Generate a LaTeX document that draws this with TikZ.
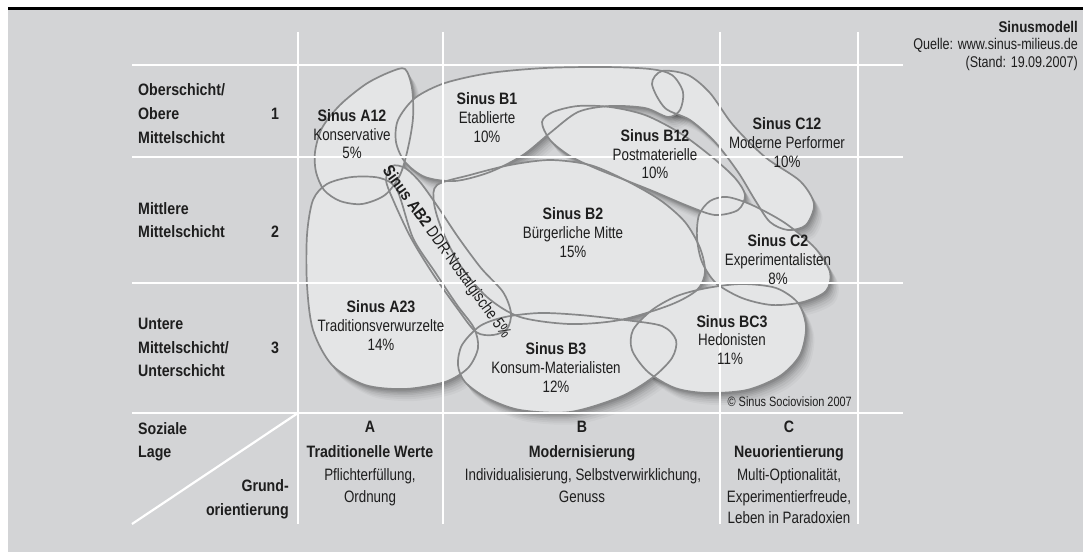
\documentclass[tikz,border=0pt]{standalone}
\usepackage{fontspec}
\setmainfont[FakeStretch=0.81]{Liberation Sans}
\newfontfamily\fbold[FakeStretch=0.86]{Liberation Sans}
\definecolor{bg}{HTML}{D3D4D6}
\definecolor{blobfill}{HTML}{E4E5E6}
\definecolor{blobline}{HTML}{878889}
\definecolor{txt}{HTML}{1E1E1E}
\newcommand\hb[1]{{\fbold\bfseries #1}}
\newcommand\shpAa{plot[smooth cycle] coordinates {(405,69) (412,88) (413,118) (408,148) (400,175) (385,195) (362,204) (340,201) (324,190) (316,172) (315,152) (322,128) (340,105) (366,84) (390,72)}}
\newcommand\shpBa{plot[smooth cycle] coordinates {(398,120) (415,98) (445,83) (490,73) (545,68) (605,67) (650,69) (672,75) (683,92) (680,110) (668,117) (645,108) (610,106) (578,112) (550,133) (523,155) (490,172) (455,181) (425,177) (405,162) (396,142)}}
\newcommand\shpBb{plot[smooth cycle] coordinates {(542,122) (553,112) (578,106) (610,107) (645,115) (680,133) (712,157) (735,178) (745,195) (738,210) (715,215) (688,206) (655,192) (625,180) (595,168) (570,156) (550,140)}}
\newcommand\shpCa{plot[smooth cycle] coordinates {(652,84) (662,71) (688,75) (710,93) (733,125) (765,157) (800,181) (814,204) (806,225) (788,230) (770,222) (755,200) (738,172) (715,142) (690,120) (665,108)}}
\newcommand\shpCb{plot[smooth cycle] coordinates {(699,215) (710,201) (727,197) (752,205) (785,223) (815,248) (830,272) (826,291) (803,302) (772,305) (742,298) (716,283) (702,262) (697,238)}}
\newcommand\shpBc{plot[smooth cycle] coordinates {(437,185) (470,175) (510,165) (550,160) (590,165) (625,180) (660,200) (685,222) (700,248) (705,272) (697,290) (670,305) (620,320) (570,324) (520,317) (487,297) (460,265) (442,230) (434,203)}}
\newcommand\shpAB{plot[smooth cycle] coordinates {(392,166) (405,168) (420,182) (438,207) (458,237) (481,268) (503,292) (511,313) (507,329) (493,335) (476,332) (457,308) (433,274) (411,238) (394,202) (386,180)}}
\newcommand\shpAc{plot[smooth cycle] coordinates {(313,200) (327,184) (352,177) (380,178) (397,190) (413,238) (435,272) (457,305) (474,328) (478,348) (468,368) (445,382) (405,389) (365,385) (332,365) (313,330) (307,285) (307,235)}}
\newcommand\shpBd{plot[smooth cycle] coordinates {(480,326) (505,317) (540,313) (580,315) (625,320) (662,326) (676,340) (672,358) (652,378) (620,397) (570,412) (520,410) (487,398) (465,382) (458,365) (462,345)}}
\newcommand\shpBC{plot[smooth cycle] coordinates {(633,330) (652,310) (677,296) (707,288) (742,284) (776,288) (798,303) (806,327) (800,355) (780,376) (747,390) (707,393) (675,388) (648,372) (632,350)}}
\tikzset{
  txtc/.style={inner sep=0pt, text=txt, font=\fontsize{16.5}{19}\selectfont, anchor=base},
  txtl/.style={txtc, anchor=base west},
  txtr/.style={txtc, anchor=base east},
  gridline/.style={white, line width=2.2pt},
  blobedge/.style={draw=blobline, line width=1.7pt},
}
\begin{document}
\begin{tikzpicture}[x=1pt,y=-1pt]
\useasboundingbox (0,0) rectangle (1083,552);
\fill[white] (0,0) rectangle (1083,552);
\fill[bg] (8,9.5) rectangle (1083,552);
\fill[black] (8,7) rectangle (1083,9.5);
% shadows
\foreach \s/\o in {1.5/0.09, 3/0.08, 4.5/0.07, 6/0.06, 8/0.05, 10/0.04, 12/0.03} {
  \begin{scope}[shift={(0.7*\s,\s)}]
  \fill[black, opacity=\o] \shpAa; \fill[black, opacity=\o] \shpBa;
  \fill[black, opacity=\o] \shpBb; \fill[black, opacity=\o] \shpCa;
  \fill[black, opacity=\o] \shpCb; \fill[black, opacity=\o] \shpBc;
  \fill[black, opacity=\o] \shpAB; \fill[black, opacity=\o] \shpAc;
  \fill[black, opacity=\o] \shpBd; \fill[black, opacity=\o] \shpBC;
  \end{scope}
}
% fills
\fill[blobfill] \shpAa; \fill[blobfill] \shpBa; \fill[blobfill] \shpBb;
\fill[blobfill] \shpCa; \fill[blobfill] \shpCb; \fill[blobfill] \shpBc;
\fill[blobfill] \shpAB; \fill[blobfill] \shpAc; \fill[blobfill] \shpBd;
\fill[blobfill] \shpBC;
% outlines
\draw[blobedge] \shpAa; \draw[blobedge] \shpBa; \draw[blobedge] \shpBb;
\draw[blobedge] \shpCa; \draw[blobedge] \shpCb; \draw[blobedge] \shpBc;
\draw[blobedge] \shpAB; \draw[blobedge] \shpAc; \draw[blobedge] \shpBd;
\draw[blobedge] \shpBC;
% grid
\foreach \yy in {65,157,283,413} {\draw[gridline] (132,\yy) -- (903,\yy);}
\foreach \xx in {298,443,720,858} {\draw[gridline] (\xx,32) -- (\xx,524);}
\coordinate (dA) at (298,413);
\coordinate (dB) at (132,524);
\draw[gridline] (dA) -- (dB);
% left labels
\node[txtl] (l1a) at (138,95.8) {\hb{Oberschicht/}};
\node[txtl] (l1b) at (138,119.8) {\hb{Obere}};
\node[txtl] (l1c) at (138,143.8) {\hb{Mittelschicht}};
\node[txtc] (n1) at (275,119.8) {\hb{1}};
\node[txtl] (l2a) at (138,214.8) {\hb{Mittlere}};
\node[txtl] (l2b) at (138,237.8) {\hb{Mittelschicht}};
\node[txtc] (n2) at (275,237.8) {\hb{2}};
\node[txtl] (l3a) at (138,329.8) {\hb{Untere}};
\node[txtl] (l3b) at (138,353.8) {\hb{Mittelschicht/}};
\node[txtl] (l3c) at (138,376.8) {\hb{Unterschicht}};
\node[txtc] (n3) at (275,353.8) {\hb{3}};
\node[txtl] (soz) at (138,434.8) {\hb{Soziale}};
\node[txtl] (lage) at (138,457.8) {\hb{Lage}};
\node[txtr] (grund) at (289,491.8) {\hb{Grund-}};
\node[txtr] (orient) at (289,515.8) {\hb{orientierung}};
% column labels
\node[txtc] (ca1) at (370,432.8) {\hb{A}};
\node[txtc] (ca2) at (370,457.8) {\hb{Traditionelle Werte}};
\node[txtc] (ca3) at (370,480.8) {Pflichterfüllung,};
\node[txtc] (ca4) at (370,502.8) {Ordnung};
\node[txtc] (cb1) at (582,432.8) {\hb{B}};
\node[txtc] (cb2) at (582,457.8) {\hb{Modernisierung}};
\node[txtc] (cb3) at (583,480.8) {Individualisierung, Selbstverwirklichung,};
\node[txtc] (cb4) at (582,502.8) {Genuss};
\node[txtc] (cc1) at (789,432.8) {\hb{C}};
\node[txtc] (cc2) at (789,457.8) {\hb{Neuorientierung}};
\node[txtc] (cc3) at (789,480.8) {Multi-Optionalität,};
\node[txtc] (cc4) at (789,502.8) {Experimentierfreude,};
\node[txtc] (cc5) at (789,523.8) {Leben in Paradoxien};
% blob labels
\node[txtc] (a12a) at (352,121.8) {\hb{Sinus A12}};
\node[txtc] (a12b) at (352,140.8) {Konservative};
\node[txtc] (a12c) at (352,158.8) {5\%};
\node[txtc] (b1a) at (487,104.8) {\hb{Sinus B1}};
\node[txtc] (b1b) at (487,123.8) {Etablierte};
\node[txtc] (b1c) at (487,142.8) {10\%};
\node[txtc] (b12a) at (655,141.8) {\hb{Sinus B12}};
\node[txtc] (b12b) at (655,160.8) {Postmaterielle};
\node[txtc] (b12c) at (655,178.8) {10\%};
\node[txtc] (c12a) at (787,129.8) {\hb{Sinus C12}};
\node[txtc] (c12b) at (787,148.8) {Moderne Performer};
\node[txtc] (c12c) at (787,167.8) {10\%};
\node[txtc] (b2a) at (573,219.8) {\hb{Sinus B2}};
\node[txtc] (b2b) at (573,238.8) {Bürgerliche Mitte};
\node[txtc] (b2c) at (573,257.8) {15\%};
\node[txtc] (c2a) at (778,246.8) {\hb{Sinus C2}};
\node[txtc] (c2b) at (778,265.8) {Experimentalisten};
\node[txtc] (c2c) at (778,284.8) {8\%};
\node[txtc] (a23a) at (381,312.8) {\hb{Sinus A23}};
\node[txtc] (a23b) at (381,331.8) {Traditionsverwurzelte};
\node[txtc] (a23c) at (381,350.8) {14\%};
\node[txtc] (b3a) at (556,354.8) {\hb{Sinus B3}};
\node[txtc] (b3b) at (556,373.8) {Konsum-Materialisten};
\node[txtc] (b3c) at (556,392.8) {12\%};
\node[txtc] (bc3a) at (732,327.8) {\hb{Sinus BC3}};
\node[txtc] (bc3b) at (732,345.8) {Hedonisten};
\node[txtc] (bc3c) at (730,364.8) {11\%};
\node[txtc, anchor=center, rotate=-54.3, text height=12pt, text depth=0pt] (ab2) at (447.5,251.5) {\hb{Sinus AB2} DDR-Nostalgische 5\%};
\node[txtr, font=\fontsize{13.5}{16}\selectfont] (copy) at (852,406.9) {\textcopyright\ Sinus Sociovision 2007};
% top right
\node[txtr, font=\fontsize{15.5}{18}\selectfont] (sm1) at (1078,32.1) {\hb{Sinusmodell}};
\node[txtr, font=\fontsize{15.5}{18}\selectfont] (sm2) at (1078,49.6) {Quelle: www.sinus-milieus.de};
\node[txtr, font=\fontsize{15.5}{18}\selectfont] (sm3) at (1078,67.1) {(Stand: 19.09.2007)};
\end{tikzpicture}
\end{document}
